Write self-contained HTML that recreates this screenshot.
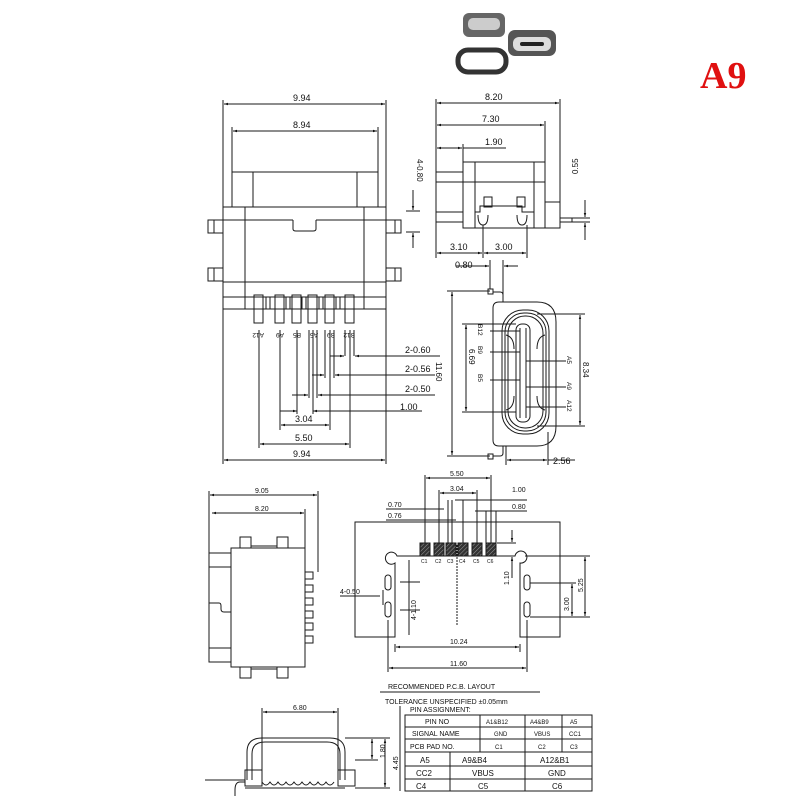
<!DOCTYPE html>
<html><head><meta charset="utf-8"><style>
html,body{margin:0;padding:0;background:#fff;}
svg{display:block}
text{font-family:"Liberation Sans",sans-serif;fill:#111;}
</style></head><body>
<svg width="800" height="800" viewBox="0 0 800 800" xmlns="http://www.w3.org/2000/svg">
<defs>
<marker id="a" viewBox="0 0 10 10" refX="10" refY="5" markerWidth="6" markerHeight="4" orient="auto-start-reverse"><path d="M0,2 L10,5 L0,8z" fill="#111"/></marker>
<pattern id="h" width="3" height="3" patternUnits="userSpaceOnUse" patternTransform="rotate(45)"><rect width="3" height="3" fill="#333"/><line x1="0" y1="0" x2="0" y2="3" stroke="#999" stroke-width="1"/></pattern>
</defs>
<g stroke="#1a1a1a" stroke-width="1" fill="none">
<g stroke="none">
<rect x="463" y="13" width="42" height="24" rx="6" fill="#666"/>
<rect x="468" y="18" width="32" height="12" rx="5" fill="#ccc"/>
<rect x="508" y="30" width="48" height="26" rx="7" fill="#555"/>
<rect x="513" y="37" width="38" height="14" rx="6" fill="#ddd"/>
<rect x="520" y="42" width="24" height="4" rx="2" fill="#222"/>
</g>
<rect x="458" y="50" width="48" height="22" rx="10" stroke="#333" stroke-width="5"/>
<rect x="232" y="172" width="146" height="35"/>
<line x1="253" y1="172" x2="253" y2="207"/><line x1="357" y1="172" x2="357" y2="207"/>
<rect x="223" y="207" width="163" height="90"/>
<line x1="223" y1="220" x2="293" y2="220"/><line x1="316" y1="220" x2="386" y2="220"/>
<path d="M293,220 V229 Q293,231 296,231 H313 Q316,231 316,229 V220"/>
<line x1="223" y1="282" x2="386" y2="282"/>
<line x1="245" y1="207" x2="245" y2="297"/><line x1="364" y1="207" x2="364" y2="297"/>
<rect x="208" y="220" width="15" height="13"/><rect x="208" y="268" width="15" height="13"/>
<rect x="386" y="220" width="15" height="13"/><rect x="386" y="268" width="15" height="13"/>
<line x1="214" y1="220" x2="214" y2="233"/><line x1="214" y1="268" x2="214" y2="281"/>
<line x1="395" y1="220" x2="395" y2="233"/><line x1="395" y1="268" x2="395" y2="281"/>
<rect x="223" y="297" width="163" height="12"/>
<line x1="245" y1="297" x2="245" y2="309"/><line x1="364" y1="297" x2="364" y2="309"/>
<g>
<rect x="254" y="295" width="9" height="28"/><rect x="275" y="295" width="9" height="28"/>
<rect x="292" y="295" width="9" height="28"/><rect x="308" y="295" width="9" height="28"/>
<rect x="325" y="295" width="9" height="28"/><rect x="345" y="295" width="9" height="28"/>
<rect x="266" y="297" width="4" height="12"/><rect x="286" y="297" width="4" height="12"/><rect x="302" y="297" width="4" height="12"/><rect x="319" y="297" width="4" height="12"/><rect x="336" y="297" width="4" height="12"/>
</g>
<line x1="223" y1="100" x2="223" y2="207"/><line x1="386" y1="100" x2="386" y2="207"/>
<line x1="224" y1="104" x2="385" y2="104" marker-start="url(#a)" marker-end="url(#a)"/>
<line x1="232" y1="127" x2="232" y2="172"/><line x1="378" y1="127" x2="378" y2="172"/>
<line x1="233" y1="131" x2="377" y2="131" marker-start="url(#a)" marker-end="url(#a)"/>
<line x1="223" y1="309" x2="223" y2="464"/><line x1="386" y1="309" x2="386" y2="464"/>
<line x1="224" y1="460" x2="385" y2="460" marker-start="url(#a)" marker-end="url(#a)"/>
<line x1="259" y1="330" x2="259" y2="448"/><line x1="350" y1="330" x2="350" y2="448"/>
<line x1="260" y1="444" x2="349" y2="444" marker-start="url(#a)" marker-end="url(#a)"/>
<line x1="280" y1="330" x2="280" y2="430"/><line x1="330" y1="330" x2="330" y2="430"/>
<line x1="281" y1="425" x2="329" y2="425" marker-start="url(#a)" marker-end="url(#a)"/>
<line x1="297" y1="330" x2="297" y2="414"/><line x1="313" y1="330" x2="313" y2="414"/>
<line x1="280" y1="411" x2="297" y2="411" marker-end="url(#a)"/><line x1="330" y1="411" x2="313" y2="411" marker-end="url(#a)"/><line x1="330" y1="411" x2="422" y2="411"/>
<line x1="309" y1="330" x2="309" y2="398"/><line x1="317" y1="330" x2="317" y2="398"/>
<line x1="292" y1="395" x2="308" y2="395" marker-end="url(#a)"/><line x1="326" y1="395" x2="318" y2="395" marker-end="url(#a)"/><line x1="318" y1="395" x2="435" y2="395"/>
<line x1="325" y1="330" x2="325" y2="378"/><line x1="334" y1="330" x2="334" y2="378"/>
<line x1="312" y1="375" x2="324" y2="375" marker-end="url(#a)"/><line x1="345" y1="375" x2="335" y2="375" marker-end="url(#a)"/><line x1="345" y1="375" x2="435" y2="375"/>
<line x1="345" y1="330" x2="345" y2="356"/><line x1="354" y1="330" x2="354" y2="356"/>
<line x1="330" y1="356" x2="344" y2="356" marker-end="url(#a)"/><line x1="365" y1="356" x2="355" y2="356" marker-end="url(#a)"/><line x1="365" y1="356" x2="440" y2="356"/>
<rect x="436" y="172" width="27" height="50"/>
<rect x="463" y="162" width="82" height="66"/>
<line x1="475" y1="162" x2="475" y2="228"/><line x1="534" y1="162" x2="534" y2="228"/>
<line x1="436" y1="182" x2="545" y2="182"/><line x1="436" y1="212" x2="463" y2="212"/>
<path d="M545,202 H560 V228 H545"/><rect x="560" y="218" width="12" height="4"/>
<rect x="484" y="197" width="8" height="10"/><rect x="517" y="197" width="8" height="10"/>
<path d="M475,212 H480 V206 H522 V212 H534"/>
<path d="M478,215 q0,10 5,10 q5,0 5,-10"/><path d="M517,215 q0,10 5,10 q5,0 5,-10"/>
<line x1="436" y1="99" x2="436" y2="258"/><line x1="560" y1="99" x2="560" y2="202"/><line x1="545" y1="121" x2="545" y2="162"/>
<line x1="437" y1="103" x2="559" y2="103" marker-start="url(#a)" marker-end="url(#a)"/>
<line x1="437" y1="125" x2="544" y2="125" marker-start="url(#a)" marker-end="url(#a)"/>
<line x1="463" y1="144" x2="463" y2="162"/>
<line x1="437" y1="148" x2="462" y2="148" marker-start="url(#a)" marker-end="url(#a)"/><line x1="463" y1="148" x2="506" y2="148"/>
<line x1="483" y1="225" x2="483" y2="258"/><line x1="527" y1="225" x2="527" y2="258"/>
<line x1="437" y1="253" x2="482" y2="253" marker-start="url(#a)" marker-end="url(#a)"/>
<line x1="484" y1="253" x2="526" y2="253" marker-start="url(#a)" marker-end="url(#a)"/>
<line x1="572" y1="218" x2="590" y2="218"/><line x1="572" y1="222" x2="590" y2="222"/>
<line x1="585" y1="200" x2="585" y2="217" marker-end="url(#a)"/><line x1="585" y1="240" x2="585" y2="223" marker-end="url(#a)"/>
<line x1="406" y1="211" x2="420" y2="211"/><line x1="406" y1="232" x2="420" y2="232"/>
<line x1="413" y1="190" x2="413" y2="210" marker-end="url(#a)"/><line x1="413" y1="248" x2="413" y2="233" marker-end="url(#a)"/>
<path d="M499,302 H537 Q556,302 556,322 V426 Q556,446 537,446 H499 Q493,446 493,440 V308 Q493,302 499,302Z"/>
<rect x="502" y="310" width="47" height="124" rx="21"/>
<rect x="505" y="313" width="41" height="118" rx="19"/>
<rect x="508" y="316" width="35" height="112" rx="17"/>
<rect x="516" y="324" width="14" height="98" rx="6"/>
<line x1="520" y1="328" x2="520" y2="418"/><line x1="526" y1="328" x2="526" y2="418"/>
<path d="M506,335 q8,2 8,14"/><path d="M545,335 q-8,2 -8,14"/><path d="M506,410 q8,-2 8,-14"/><path d="M545,410 q-8,-2 -8,-14"/>
<path d="M493,292 H500 Q503,292 503,295 V302"/><path d="M493,456 H500 Q503,456 503,453 V446"/>
<rect x="488" y="289" width="5" height="5"/><rect x="488" y="454" width="5" height="5"/>
<line x1="490" y1="260" x2="490" y2="289"/><line x1="503" y1="260" x2="503" y2="295"/>
<line x1="456" y1="266" x2="489" y2="266" marker-end="url(#a)"/><line x1="518" y1="266" x2="504" y2="266" marker-end="url(#a)"/>
<line x1="447" y1="291" x2="490" y2="291"/><line x1="447" y1="456" x2="490" y2="456"/>
<line x1="452" y1="292" x2="452" y2="455" marker-start="url(#a)" marker-end="url(#a)"/>
<line x1="462" y1="324" x2="516" y2="324"/><line x1="462" y1="412" x2="516" y2="412"/>
<line x1="466" y1="325" x2="466" y2="411" marker-start="url(#a)" marker-end="url(#a)"/>
<line x1="537" y1="314" x2="585" y2="314"/><line x1="537" y1="426" x2="585" y2="426"/>
<line x1="580" y1="315" x2="580" y2="425" marker-start="url(#a)" marker-end="url(#a)"/>
<line x1="506" y1="446" x2="506" y2="465"/><line x1="548" y1="432" x2="548" y2="465"/>
<line x1="507" y1="460" x2="547" y2="460" marker-start="url(#a)" marker-end="url(#a)"/><line x1="548" y1="460" x2="575" y2="460"/>
<line x1="490" y1="331" x2="520" y2="331"/><line x1="490" y1="352" x2="520" y2="352"/><line x1="490" y1="380" x2="520" y2="380"/>
<line x1="526" y1="361" x2="566" y2="361"/><line x1="526" y1="387" x2="566" y2="387"/><line x1="526" y1="407" x2="566" y2="407"/>
<rect x="231" y="548" width="74" height="119"/>
<path d="M231,553 H209 V662 H231"/><line x1="209" y1="567" x2="231" y2="567"/><line x1="209" y1="648" x2="231" y2="648"/>
<path d="M209,603 H219 q2,0 2,3 v3 q0,3 3,3 H231"/>
<rect x="240" y="537" width="11" height="11"/><rect x="277" y="537" width="11" height="11"/>
<rect x="240" y="667" width="11" height="11"/><rect x="277" y="667" width="11" height="11"/>
<line x1="251" y1="546" x2="277" y2="546"/><line x1="251" y1="669" x2="277" y2="669"/>
<rect x="305" y="572" width="8" height="7"/><rect x="305" y="585" width="8" height="7"/><rect x="305" y="598" width="8" height="7"/><rect x="305" y="611" width="8" height="7"/><rect x="305" y="623" width="8" height="7"/><rect x="305" y="636" width="8" height="7"/>
<line x1="209" y1="491" x2="209" y2="553"/><line x1="318" y1="491" x2="318" y2="572"/>
<line x1="210" y1="495" x2="317" y2="495" marker-start="url(#a)" marker-end="url(#a)"/>
<line x1="305" y1="509" x2="305" y2="548"/>
<line x1="212" y1="513" x2="304" y2="513" marker-start="url(#a)" marker-end="url(#a)"/>
<path d="M355,522 H560 V637 H520 V563 A6,6 0 1,0 515,556 H397 A6,6 0 1,0 395,563 V637 H355Z"/>
<rect x="385" y="575" width="6" height="15" rx="3"/><rect x="385" y="602" width="6" height="15" rx="3"/>
<rect x="524" y="575" width="6" height="15" rx="3"/><rect x="524" y="602" width="6" height="15" rx="3"/>
<g fill="url(#h)">
<rect x="420" y="543" width="10" height="13"/><rect x="434" y="543" width="10" height="13"/><rect x="446" y="543" width="10" height="13"/><rect x="458" y="543" width="10" height="13"/><rect x="472" y="543" width="10" height="13"/><rect x="486" y="543" width="10" height="13"/>
</g>
<line x1="457" y1="545" x2="457" y2="625" stroke-dasharray="2,1"/>
<line x1="425" y1="475" x2="425" y2="543"/><line x1="491" y1="475" x2="491" y2="543"/>
<line x1="426" y1="478" x2="490" y2="478" marker-start="url(#a)" marker-end="url(#a)"/>
<line x1="439" y1="490" x2="439" y2="543"/><line x1="477" y1="490" x2="477" y2="543"/>
<line x1="440" y1="493" x2="476" y2="493" marker-start="url(#a)" marker-end="url(#a)"/>
<line x1="448" y1="500" x2="448" y2="543"/><line x1="463" y1="500" x2="463" y2="543"/><line x1="452" y1="500" x2="452" y2="543"/>
<line x1="455" y1="500" x2="527" y2="500"/>
<line x1="386" y1="509" x2="444" y2="509"/><line x1="386" y1="520" x2="456" y2="520"/>
<line x1="475" y1="511" x2="527" y2="511"/><line x1="486" y1="511" x2="486" y2="543"/><line x1="496" y1="511" x2="496" y2="543"/>
<line x1="512" y1="530" x2="512" y2="542" marker-end="url(#a)"/><line x1="512" y1="578" x2="512" y2="557" marker-end="url(#a)"/><line x1="497" y1="543" x2="516" y2="543"/>
<line x1="409" y1="560" x2="409" y2="635"/><line x1="400" y1="582" x2="420" y2="582"/><line x1="400" y1="610" x2="420" y2="610"/>
<line x1="395" y1="644" x2="395" y2="652"/><line x1="520" y1="644" x2="520" y2="652"/>
<line x1="396" y1="647" x2="519" y2="647" marker-start="url(#a)" marker-end="url(#a)"/>
<line x1="388" y1="620" x2="388" y2="672"/><line x1="527" y1="620" x2="527" y2="672"/>
<line x1="389" y1="668" x2="526" y2="668" marker-start="url(#a)" marker-end="url(#a)"/>
<line x1="525" y1="556" x2="590" y2="556"/><line x1="530" y1="583" x2="576" y2="583"/><line x1="530" y1="617" x2="590" y2="617"/>
<line x1="585" y1="557" x2="585" y2="616" marker-start="url(#a)" marker-end="url(#a)"/>
<line x1="572" y1="584" x2="572" y2="616" marker-start="url(#a)" marker-end="url(#a)"/>
<line x1="340" y1="596" x2="380" y2="596"/><line x1="383" y1="590" x2="383" y2="605"/>
<line x1="380" y1="692" x2="540" y2="692"/>
<rect x="405" y="715" width="187" height="76"/>
<line x1="405" y1="727" x2="592" y2="727"/><line x1="405" y1="739" x2="592" y2="739"/><line x1="405" y1="752" x2="592" y2="752"/><line x1="405" y1="766" x2="592" y2="766"/><line x1="405" y1="779" x2="592" y2="779"/>
<line x1="480" y1="715" x2="480" y2="752"/><line x1="525" y1="715" x2="525" y2="791"/><line x1="562" y1="715" x2="562" y2="752"/><line x1="450" y1="752" x2="450" y2="791"/>
<line x1="400" y1="706" x2="400" y2="791"/>
<path d="M247,780 V752 Q247,738 262,738 H330 Q345,738 345,752 V780"/>
<path d="M252,780 V754 Q252,742 265,742 H327 Q340,742 340,754 V780"/>
<line x1="262" y1="708" x2="262" y2="780"/><line x1="338" y1="708" x2="338" y2="780"/>
<line x1="263" y1="712" x2="337" y2="712" marker-start="url(#a)" marker-end="url(#a)"/>
<rect x="245" y="770" width="17" height="16"/><rect x="338" y="770" width="17" height="16"/>
<path d="M262,782 q4,6 8,0 q4,6 8,0 q4,6 8,0 q4,6 8,0 q4,6 8,0 q4,6 8,0 q4,6 8,0 q4,6 8,0 q4,6 8,0"/>
<line x1="205" y1="780" x2="245" y2="780"/><line x1="245" y1="788" x2="345" y2="788"/>
<path d="M245,782 H240 Q235,782 235,790 V796"/>
<line x1="345" y1="738" x2="390" y2="738"/><line x1="355" y1="760" x2="378" y2="760"/><line x1="355" y1="788" x2="390" y2="788"/>
<line x1="372" y1="739" x2="372" y2="759" marker-start="url(#a)" marker-end="url(#a)"/>
<line x1="385" y1="739" x2="385" y2="787" marker-start="url(#a)" marker-end="url(#a)"/>
</g>
<g font-size="9">
<text x="293" y="101">9.94</text><text x="293" y="128">8.94</text>
<text x="405" y="353">2-0.60</text><text x="405" y="372">2-0.56</text><text x="405" y="392">2-0.50</text><text x="400" y="410">1.00</text>
<text x="295" y="422">3.04</text><text x="295" y="441">5.50</text><text x="293" y="457">9.94</text>
<text x="485" y="100">8.20</text><text x="482" y="122">7.30</text><text x="485" y="145">1.90</text>
<text x="450" y="250">3.10</text><text x="495" y="250">3.00</text><text x="455" y="268">0.80</text><text x="553" y="464">2.56</text>
<text x="512" y="492" font-size="7">1.00</text><text x="512" y="509" font-size="7">0.80</text>
<text x="388" y="507" font-size="7">0.70</text><text x="388" y="518" font-size="7">0.76</text>
<text x="450" y="476" font-size="7">5.50</text><text x="450" y="491" font-size="7">3.04</text>
<text x="450" y="644" font-size="7">10.24</text><text x="450" y="666" font-size="7">11.60</text>
<text x="340" y="594" font-size="7">4-0.50</text>
<text x="255" y="493" font-size="7">9.05</text><text x="255" y="511" font-size="7">8.20</text><text x="293" y="710" font-size="7">6.80</text>
</g>
<g font-size="6.5">
<text transform="translate(264,333) rotate(180)">A12</text><text transform="translate(284,333) rotate(180)">A9</text>
<text transform="translate(301,333) rotate(180)">B5</text><text transform="translate(318,333) rotate(180)">A5</text>
<text transform="translate(335,333) rotate(180)">B9</text><text transform="translate(355,333) rotate(180)">B12</text>
<text transform="translate(478,324) rotate(90)">B12</text><text transform="translate(478,346) rotate(90)">B9</text><text transform="translate(478,374) rotate(90)">B5</text>
<text transform="translate(567,356) rotate(90)">A5</text><text transform="translate(567,382) rotate(90)">A9</text><text transform="translate(567,400) rotate(90)">A12</text>
<text transform="translate(436,362) rotate(90)" font-size="8">11.60</text>
<text transform="translate(469,349) rotate(90)" font-size="8">6.69</text>
<text transform="translate(583,362) rotate(90)" font-size="8">8.34</text>
<text transform="translate(417,159) rotate(90)" font-size="8">4-0.80</text>
<text transform="translate(578,174) rotate(-90)" font-size="8">0.55</text>
<text transform="translate(509,585) rotate(-90)" font-size="7">1.10</text>
<text transform="translate(569,611) rotate(-90)" font-size="7">3.00</text>
<text transform="translate(583,592) rotate(-90)" font-size="7">5.25</text>
<text transform="translate(416,620) rotate(-90)" font-size="7">4-1.10</text>
<text transform="translate(385,758) rotate(-90)" font-size="7">1.80</text>
<text transform="translate(398,770) rotate(-90)" font-size="7">4.45</text>
<text x="421" y="563" font-size="5">C1</text><text x="435" y="563" font-size="5">C2</text><text x="447" y="563" font-size="5">C3</text><text x="459" y="563" font-size="5">C4</text><text x="473" y="563" font-size="5">C5</text><text x="487" y="563" font-size="5">C6</text>
</g>
<g font-size="7">
<text x="388" y="689">RECOMMENDED  P.C.B. LAYOUT</text>
<text x="385" y="704">TOLERANCE UNSPECIFIED ±0.05mm</text>
<text x="410" y="712">PIN ASSIGNMENT:</text>
<text x="425" y="724">PIN NO</text><text x="486" y="724" font-size="6">A1&amp;B12</text><text x="530" y="724" font-size="6">A4&amp;B9</text><text x="570" y="724" font-size="6">A5</text>
<text x="412" y="736">SIGNAL NAME</text><text x="494" y="736" font-size="6">GND</text><text x="534" y="736" font-size="6">VBUS</text><text x="569" y="736" font-size="6">CC1</text>
<text x="410" y="749">PCB PAD NO.</text><text x="495" y="749" font-size="6">C1</text><text x="538" y="749" font-size="6">C2</text><text x="570" y="749" font-size="6">C3</text>
<text x="420" y="763" font-size="8">A5</text><text x="462" y="763" font-size="8">A9&amp;B4</text><text x="540" y="763" font-size="8">A12&amp;B1</text>
<text x="416" y="776" font-size="8">CC2</text><text x="472" y="776" font-size="8">VBUS</text><text x="548" y="776" font-size="8">GND</text>
<text x="416" y="789" font-size="8">C4</text><text x="478" y="789" font-size="8">C5</text><text x="552" y="789" font-size="8">C6</text>
</g>
<text x="700" y="88" style="font-family:'Liberation Serif',serif;font-size:38px;font-weight:bold;fill:#e01010">A9</text>
</svg>
</body></html>
